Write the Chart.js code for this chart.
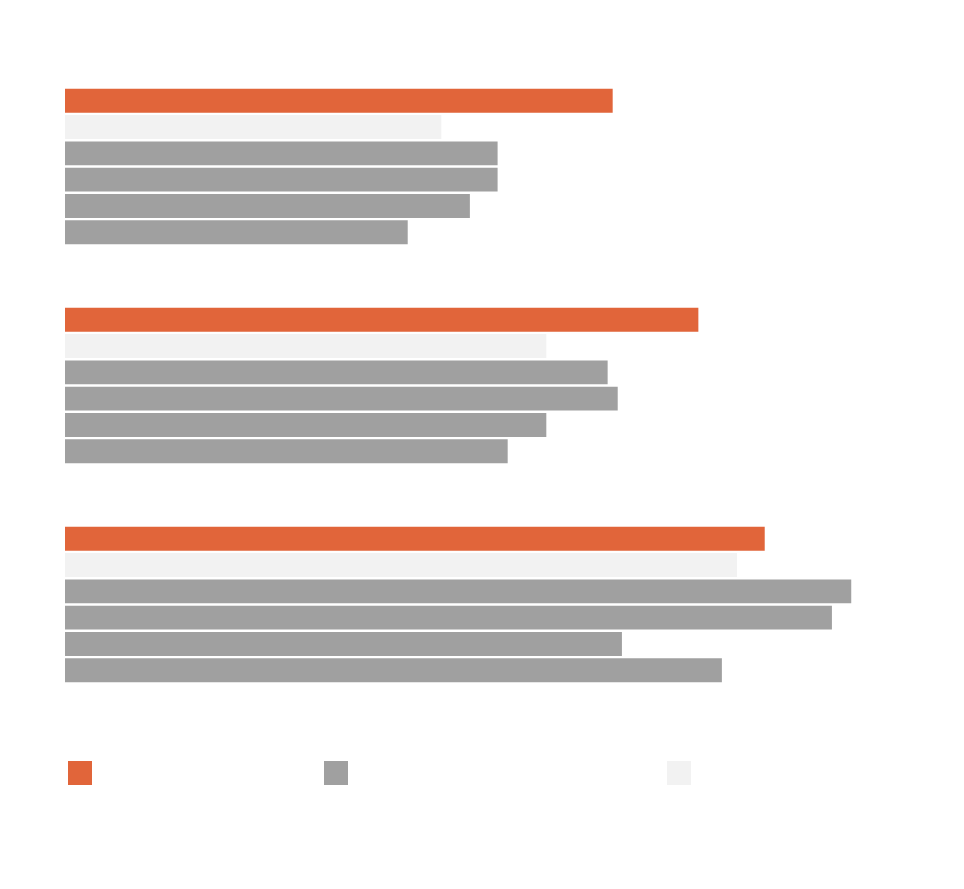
<!DOCTYPE html>
<html>
<head>
<meta charset="utf-8">
<script src="https://cdn.jsdelivr.net/npm/chart.js@4"></script>
<style>
    body { margin: 0; background: #fff; font-family: "Open Sans", sans-serif; }
    #wrap { position: relative; width: 964px; height: 889px; }
    #chartBox { position: absolute; left: 0; top: 0; width: 964px; height: 740px; }
    #legend { position: absolute; left: 0; top: 761px; width: 964px; height: 24px; }
    .swatch { position: absolute; top: 0; width: 24px; height: 24px; }
</style>
</head>
<body>
<div id="wrap">
    <div id="chartBox"><canvas id="barChart"></canvas></div>
    <div id="legend"></div>
</div>
<script>
// three groups, six bars each (first = highlighted, second = reference, rest = others)
const groups = ['A', 'B', 'C'];
const bar1 = [65.2, 75.4, 83.3];
const bar2 = [44.8, 57.3, 80.0];
const bar3 = [51.5, 64.6, 93.6];
const bar4 = [51.5, 65.8, 91.3];
const bar5 = [48.2, 57.3, 66.3];
const bar6 = [40.8, 52.7, 78.2];

const ORANGE = '#E1653A';
const GRAY = '#A0A0A0';
const LIGHT = '#F2F2F2';

const seriesValues = [bar1, bar2, bar3, bar4, bar5, bar6];
const seriesColors = [ORANGE, LIGHT, GRAY, GRAY, GRAY, GRAY];

const legendItems = [
    { color: ORANGE, left: 68 },
    { color: GRAY, left: 324 },
    { color: LIGHT, left: 667 }
];

const legendEl = document.getElementById('legend');
legendItems.forEach(item => {
    const sw = document.createElement('div');
    sw.className = 'swatch';
    sw.style.left = item.left + 'px';
    sw.style.background = item.color;
    legendEl.appendChild(sw);
});

const ctx = document.getElementById('barChart').getContext('2d');

new Chart(ctx, {
    type: 'bar',
    data: {
        labels: groups,
        datasets: seriesValues.map((values, i) => ({
            data: values,
            backgroundColor: seriesColors[i],
            borderWidth: 0,
            barPercentage: 0.91,
            categoryPercentage: 0.72
        }))
    },
    options: {
        indexAxis: 'y',
        responsive: true,
        maintainAspectRatio: false,
        animation: false,
        layout: { padding: { left: 65, right: 59, top: 57, bottom: 26 } },
        plugins: {
            legend: { display: false },
            tooltip: { enabled: false }
        },
        scales: {
            x: { display: false, min: 0, max: 100 },
            y: { display: false }
        }
    }
});
</script>
</body>
</html>
